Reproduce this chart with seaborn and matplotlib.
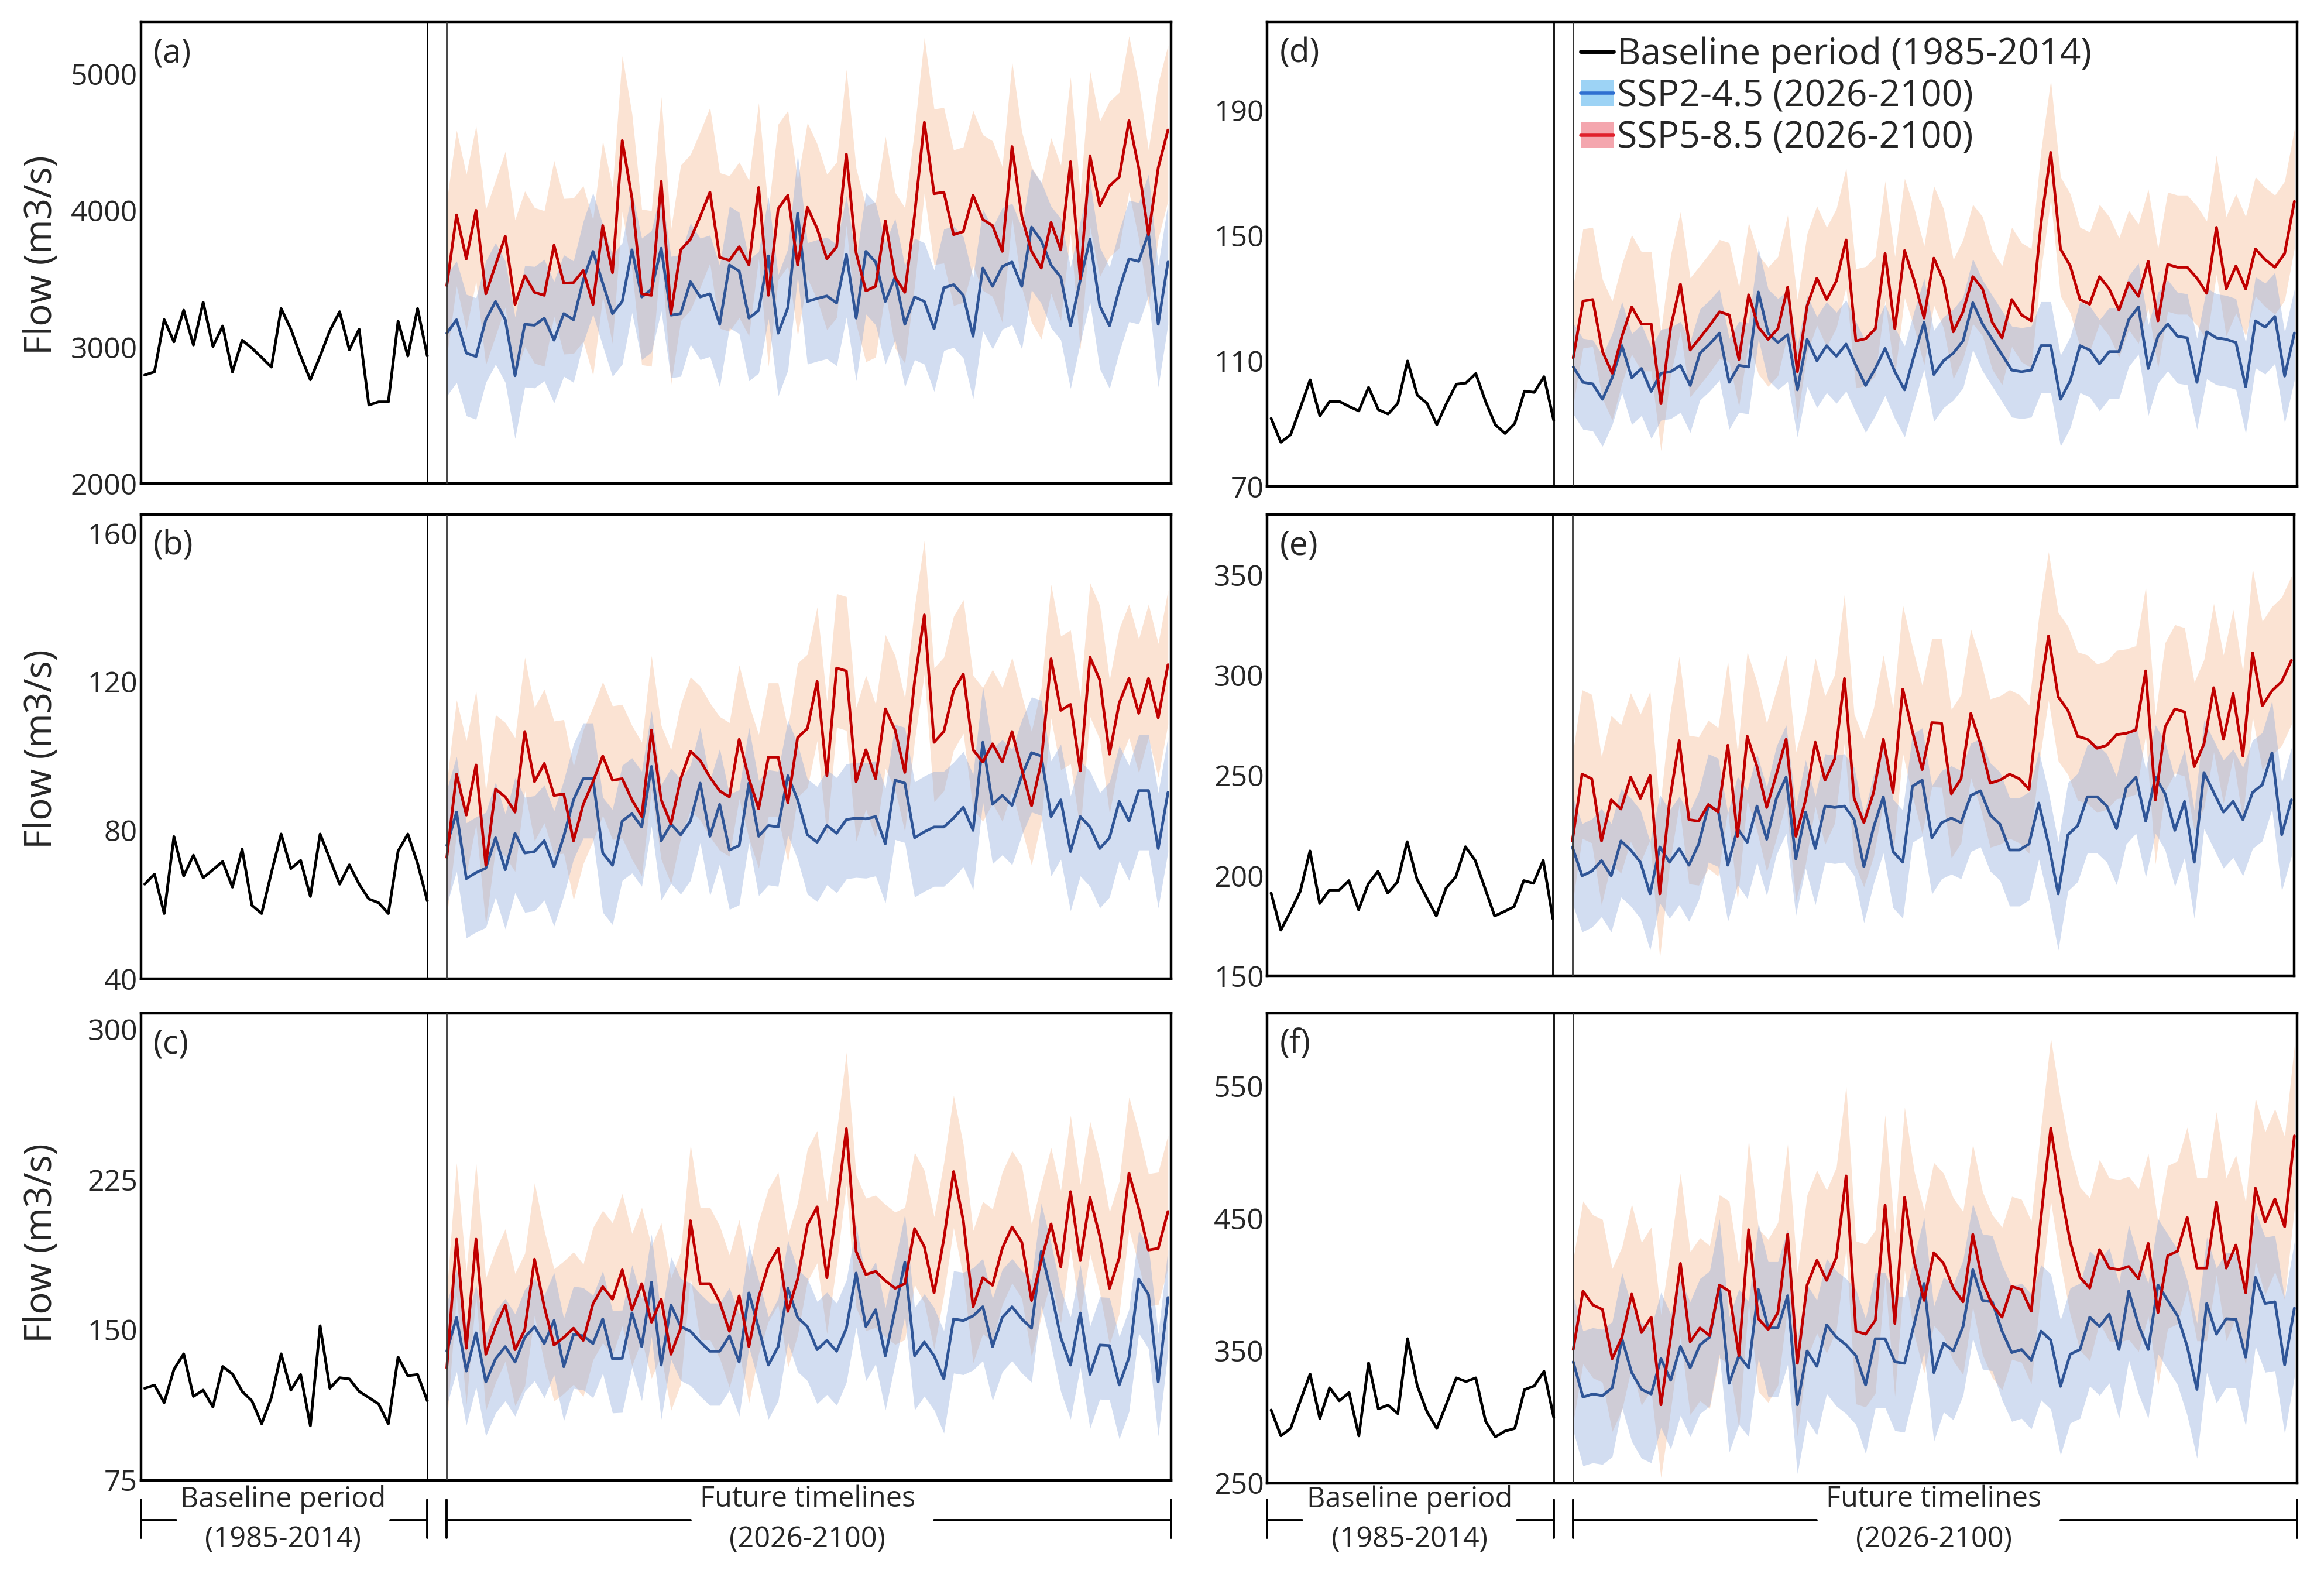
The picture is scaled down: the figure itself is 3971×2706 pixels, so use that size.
import numpy as np
import matplotlib
matplotlib.use("Agg")
import matplotlib.pyplot as plt
import matplotlib.transforms as mtransforms
from matplotlib.lines import Line2D
from matplotlib.patches import Patch
import seaborn as sns

sns.set_style("white")
plt.rcParams["font.family"] = ["Open Sans", "DejaVu Sans"]

# ---------------- data ----------------
base_years = list(range(1985, 2015))
fut_years = list(range(2026, 2101))

a_base = [2795, 2818, 3201, 3038, 3270, 3015, 3328, 3004, 3154, 2818, 3050, 2992, 2923, 2853, 3282,
          3131, 2934, 2760, 2934, 3120, 3259, 2980, 3131, 2575, 2598, 2598, 3189, 2934, 3282, 2934]
a_ssp245 = [3101, 3200, 2956, 2930, 3200, 3334, 3200, 2790, 3167, 3160,
            3212, 3050, 3245, 3200, 3490, 3701, 3468, 3245, 3334, 3712,
            3367, 3423, 3724, 3234, 3245, 3479, 3367, 3390, 3167, 3601,
            3557, 3212, 3268, 3668, 3101, 3290, 3980, 3334, 3356, 3374,
            3323, 3679, 3212, 3701, 3623, 3334, 3512, 3167, 3367, 3334,
            3134, 3434, 3457, 3379, 3079, 3579, 3445, 3590, 3623, 3445,
            3879, 3779, 3601, 3512, 3156, 3490, 3790, 3301, 3156, 3423,
            3646, 3628, 3835, 3167, 3623]
a_ssp585 = [3450, 3968, 3646, 4002, 3390, 3601, 3812, 3312, 3523, 3401,
            3379, 3746, 3468, 3472, 3561, 3312, 3890, 3545, 4513, 4090,
            3390, 3379, 4213, 3245, 3712, 3790, 3957, 4135, 3657, 3635,
            3735, 3601, 4169, 3379, 4013, 4113, 3601, 4024, 3868, 3646,
            3735, 4413, 3690, 3412, 3445, 3924, 3512, 3401, 3968, 4647,
            4124, 4135, 3824, 3846, 4113, 3935, 3890, 3701, 4469, 3957,
            3701, 3579, 3913, 3712, 4358, 3501, 4402, 4035, 4180, 4246,
            4658, 4313, 3824, 4313, 4591]
# band spreads: [ssp245 below, ssp245 above, ssp585 below, ssp585 above]
a_spread = [460, 430, 520, 620]

b_base = [65.5, 68.2, 57.6, 78.3, 67.7, 73.3, 67.2, 69.4, 71.6, 64.7, 74.9, 59.8, 57.6, 68.6, 79.0,
          69.7, 71.9, 62.2, 79.0, 72.3, 65.5, 70.7, 65.5, 61.5, 60.5, 57.6, 74.4, 79.0, 71.1, 61.0]
b_ssp245 = [75.9, 84.9, 67.0, 68.6, 69.8, 78.0, 69.4, 79.2, 73.9, 74.3,
            77.2, 70.2, 78.4, 88.2, 93.9, 93.9, 73.9, 70.6, 82.5, 84.5,
            80.9, 97.2, 77.2, 81.7, 78.8, 82.5, 92.7, 78.4, 87.0, 74.7,
            75.9, 92.7, 78.4, 81.3, 80.9, 94.7, 88.2, 78.8, 76.8, 81.3,
            79.2, 82.9, 83.3, 83.1, 83.7, 76.4, 93.5, 92.7, 78.0, 79.6,
            80.9, 80.9, 83.3, 86.2, 80.0, 103.7, 87.0, 89.4, 86.7, 94.7,
            100.9, 100.0, 83.7, 88.2, 74.3, 83.7, 80.9, 75.1, 78.0, 87.8,
            82.5, 90.7, 90.7, 75.1, 90.2]
b_ssp585 = [72.7, 95.1, 84.1, 97.6, 70.6, 91.1, 89.0, 84.9, 106.6, 93.1,
            98.0, 89.4, 89.8, 77.2, 87.0, 93.1, 100.0, 93.5, 93.9, 88.2,
            83.7, 107.0, 88.2, 81.7, 93.9, 101.3, 98.8, 94.3, 90.6, 89.0,
            104.5, 93.9, 85.8, 99.7, 99.7, 87.4, 105.0, 107.4, 120.1, 94.7,
            123.7, 122.9, 93.1, 101.7, 93.9, 112.7, 107.0, 95.6, 120.1, 138.0,
            103.7, 106.6, 117.6, 122.1, 101.7, 98.4, 103.3, 98.4, 106.6, 96.4,
            86.6, 98.4, 126.2, 112.3, 113.9, 96.0, 126.6, 120.5, 100.5, 114.3,
            120.9, 111.5, 120.9, 110.3, 124.6]
b_spread = [16, 15, 16, 20]

c_base = [120.8, 122.4, 113.7, 130.2, 138.0, 116.8, 119.9, 111.5, 131.7, 128.0, 119.3, 114.6, 103.1,
          116.2, 138.0, 119.9, 127.7, 102.1, 152.0, 120.8, 126.1, 125.5, 119.3, 116.2, 113.0, 103.1,
          136.4, 127.1, 127.7, 114.6]
c_ssp245 = [139.3, 156.1, 129.4, 148.5, 124.0, 135.5, 141.6, 133.9, 146.2, 151.6,
            143.1, 154.6, 131.6, 147.7, 147.0, 143.1, 155.4, 135.5, 135.8, 158.4,
            141.6, 173.7, 132.4, 162.3, 151.6, 149.3, 143.9, 139.3, 139.3, 147.0,
            133.9, 168.4, 150.8, 132.4, 141.6, 170.7, 156.1, 151.6, 140.1, 144.7,
            139.3, 150.8, 178.3, 151.6, 160.0, 137.0, 160.0, 183.7, 137.0, 143.9,
            137.0, 125.5, 155.4, 154.6, 156.9, 161.5, 141.6, 156.1, 161.5, 155.4,
            150.8, 189.1, 169.2, 146.2, 132.4, 158.4, 127.8, 142.4, 142.1, 122.5,
            136.2, 175.3, 167.6, 124.0, 166.1]
c_ssp585 = [130.9, 195.2, 140.8, 195.2, 137.8, 151.6, 162.3, 140.1, 150.0, 185.2,
            161.5, 142.4, 146.2, 150.8, 144.7, 163.0, 171.5, 165.3, 179.9, 160.0,
            173.0, 153.8, 165.3, 137.8, 150.8, 204.4, 173.0, 173.0, 163.8, 149.3,
            166.9, 141.6, 166.1, 182.2, 190.6, 159.2, 175.3, 202.1, 211.3, 176.0,
            210.5, 250.3, 189.1, 177.6, 179.1, 174.5, 170.7, 173.0, 200.5, 191.4,
            168.4, 195.2, 228.9, 204.4, 161.5, 176.0, 172.2, 190.6, 201.3, 193.7,
            164.6, 184.5, 202.8, 181.4, 218.9, 184.5, 215.9, 196.7, 170.7, 186.0,
            228.1, 210.5, 189.8, 190.6, 209.0]
c_spread = [27, 24, 28, 38]

d_base = [91.7, 84.1, 86.5, 95.1, 104.0, 92.5, 97.1, 97.1, 95.5, 94.1, 101.6, 94.5, 93.1, 96.5, 110.0,
          99.1, 96.5, 89.7, 96.5, 102.6, 103.0, 106.0, 97.1, 89.7, 86.9, 90.1, 100.4, 100.0, 105.0, 91.1]
d_ssp245 = [108.1, 103.2, 102.7, 97.8, 104.7, 114.9, 104.7, 107.6, 100.3, 106.1,
            106.6, 108.6, 102.2, 112.5, 115.4, 118.9, 103.2, 108.6, 108.1, 132.0,
            118.9, 115.9, 118.4, 100.8, 116.9, 110.1, 114.9, 111.5, 115.4, 108.6,
            102.2, 107.6, 114.0, 106.6, 100.8, 112.0, 122.3, 105.7, 110.1, 112.5,
            116.4, 128.6, 121.8, 116.9, 112.0, 107.1, 106.6, 107.1, 114.9, 114.9,
            97.8, 103.7, 114.9, 113.5, 109.1, 113.0, 113.0, 123.2, 127.2, 107.6,
            117.9, 121.8, 117.9, 117.4, 103.2, 119.3, 117.4, 116.9, 115.9, 101.8,
            122.8, 120.8, 124.2, 105.2, 118.9]
d_ssp585 = [111.0, 129.1, 129.6, 113.0, 106.1, 117.9, 127.2, 121.8, 121.8, 96.4,
            120.8, 134.5, 113.5, 117.4, 121.3, 125.7, 124.7, 110.5, 131.1, 120.8,
            116.9, 120.3, 133.5, 106.6, 127.6, 136.4, 129.6, 135.5, 148.6, 116.4,
            117.1, 120.3, 144.3, 120.3, 145.2, 135.5, 123.7, 142.8, 135.5, 119.3,
            125.7, 136.9, 133.0, 122.3, 117.4, 129.6, 124.7, 122.8, 154.0, 176.5,
            145.7, 140.3, 129.6, 128.1, 136.9, 133.0, 126.2, 135.0, 130.6, 141.8,
            122.8, 140.8, 139.9, 139.9, 136.4, 131.6, 152.6, 133.0, 140.3, 133.0,
            145.7, 142.3, 139.9, 144.3, 160.9]
d_spread = [15, 14, 15, 23]

e_base = [191.3, 172.8, 182.1, 192.2, 212.3, 186.1, 192.8, 192.8, 197.5, 183.0, 195.9, 202.1, 191.3,
          196.8, 216.9, 198.4, 189.1, 179.9, 193.8, 199.3, 214.4, 207.6, 193.8, 179.9, 182.1, 184.5,
          197.5, 196.2, 207.6, 178.4]
e_ssp245 = [214.3, 199.9, 202.2, 207.5, 199.9, 217.3, 212.8, 206.7, 190.9, 214.3,
            206.7, 213.5, 205.2, 215.8, 234.7, 232.5, 205.2, 223.4, 216.6, 234.7,
            218.1, 238.5, 249.1, 208.3, 231.7, 213.5, 234.7, 234.0, 234.7, 227.9,
            204.5, 224.1, 239.3, 212.0, 206.7, 244.6, 247.6, 218.8, 226.4, 228.7,
            226.4, 240.0, 242.3, 230.2, 225.7, 212.8, 212.8, 215.8, 236.2, 215.8,
            190.9, 220.4, 224.9, 239.3, 239.3, 234.7, 223.4, 243.8, 249.1, 227.2,
            249.1, 240.8, 222.6, 237.0, 206.7, 251.4, 241.5, 231.7, 237.0, 227.9,
            241.5, 245.3, 261.2, 220.4, 237.8]
e_ssp585 = [217.3, 250.6, 248.3, 217.3, 237.8, 233.2, 249.1, 238.5, 249.9, 190.9,
            237.0, 267.3, 227.9, 227.2, 235.5, 231.7, 265.0, 219.6, 269.5, 254.4,
            234.0, 250.6, 268.0, 219.6, 237.8, 266.5, 247.6, 258.2, 298.3, 238.5,
            226.4, 241.5, 268.0, 241.5, 293.0, 271.8, 252.9, 276.3, 276.0, 240.8,
            248.3, 280.9, 265.7, 246.1, 247.6, 250.6, 248.3, 243.0, 286.9, 319.5,
            289.2, 282.4, 269.5, 268.0, 263.5, 265.0, 270.3, 271.0, 272.6, 302.1,
            237.8, 274.1, 283.1, 281.6, 254.4, 265.7, 293.7, 268.0, 290.7, 259.7,
            311.1, 284.7, 292.2, 296.8, 307.4]
e_spread = [28, 26, 32, 42]

f_base = [305.2, 285.7, 291.3, 312.2, 332.3, 298.8, 322.0, 312.2, 318.4, 285.7, 340.7, 306.1, 308.9,
          302.5, 359.1, 323.4, 303.8, 291.3, 310.0, 329.5, 326.7, 329.5, 296.9, 284.9, 289.3, 291.3,
          320.6, 323.4, 334.5, 299.7]
f_ssp245 = [341.6, 315.0, 317.3, 316.1, 321.9, 359.0, 333.5, 320.8, 317.3, 344.0,
            327.7, 353.2, 337.0, 354.4, 360.2, 399.6, 325.4, 346.3, 337.0, 396.2,
            367.2, 367.2, 391.5, 309.2, 349.8, 338.2, 369.5, 360.2, 354.4, 346.3,
            324.2, 359.0, 359.0, 341.6, 340.5, 370.6, 400.8, 333.5, 355.6, 349.8,
            368.3, 411.2, 388.0, 386.9, 364.8, 348.6, 350.9, 342.8, 364.8, 357.9,
            323.1, 347.4, 350.9, 375.3, 368.3, 377.6, 350.9, 395.0, 369.5, 350.9,
            399.6, 388.0, 376.4, 353.2, 320.8, 385.7, 362.5, 374.1, 373.7, 345.1,
            405.4, 385.7, 386.9, 339.3, 382.2]
f_ssp585 = [350.9, 395.0, 384.6, 381.1, 344.0, 360.2, 392.7, 363.7, 375.3, 309.2,
            360.2, 415.9, 356.7, 367.2, 361.4, 399.6, 395.0, 346.3, 441.4, 374.1,
            366.0, 378.8, 437.9, 340.5, 399.6, 418.2, 403.1, 420.5, 482.0, 364.8,
            362.5, 373.0, 460.0, 370.6, 465.8, 417.0, 388.0, 424.0, 415.9, 397.3,
            386.9, 437.9, 402.0, 384.6, 375.3, 398.5, 396.2, 379.9, 450.7, 518.0,
            471.6, 432.1, 405.4, 397.3, 426.3, 412.4, 411.2, 413.6, 404.3, 431.0,
            378.8, 421.7, 425.2, 450.7, 412.4, 412.4, 462.3, 412.4, 429.8, 393.8,
            472.7, 447.2, 464.6, 443.7, 512.2]
f_spread = [52, 50, 55, 68]

panel_labels = ["(a)", "(b)", "(c)", "(d)", "(e)", "(f)"]
yticks_a = [2000, 3000, 4000, 5000]
yticks_b = [40, 80, 120, 160]
yticks_c = [75, 150, 225, 300]
yticks_d = [70, 110, 150, 190]
yticks_e = [150, 200, 250, 300, 350]
yticks_f = [250, 350, 450, 550]
ylims = [(2000, 5380), (40, 165), (75, 308), (70, 218), (150, 380), (250, 605)]

legend_labels = ["Baseline period (1985-2014)", "SSP2-4.5 (2026-2100)", "SSP5-8.5 (2026-2100)"]
ylabel_text = "Flow (m3/s)"

# ---------------- layout ----------------
W, H = 1568.0, 1068.0   # reference layout units
GAP = 2                 # gap (x units) between the two periods

fig = plt.figure(figsize=(39.71, 27.06), dpi=100)


def box(l, r, t, b):
    return [l / W, 1 - b / H, (r - l) / W, (b - t) / H]


boxes = [box(95, 790, 15, 326), box(95, 790, 347, 660), box(95, 790, 683, 998),
         box(855, 1550, 15, 328), box(855, 1548, 347, 658), box(855, 1550, 683, 1000)]

panels = [(a_base, a_ssp245, a_ssp585, a_spread, yticks_a),
          (b_base, b_ssp245, b_ssp585, b_spread, yticks_b),
          (c_base, c_ssp245, c_ssp585, c_spread, yticks_c),
          (d_base, d_ssp245, d_ssp585, d_spread, yticks_d),
          (e_base, e_ssp245, e_ssp585, e_spread, yticks_e),
          (f_base, f_ssp245, f_ssp585, f_spread, yticks_f)]

xb = np.array(base_years) - base_years[0]
xf = np.array(fut_years) - fut_years[0] + xb[-1] + GAP
XMIN, XMAX = -0.4, xf[-1] + 0.3

RED, BLUE = "#C00000", "#2F5597"
LW = 3.4
axes = []
for i, (bs, s245, s585, spr, ytk) in enumerate(panels):
    ax = fig.add_axes(boxes[i])
    axes.append(ax)
    s245 = np.array(s245, float)
    s585 = np.array(s585, float)
    ax.fill_between(xf, s585 - spr[2], s585 + spr[3], color="#F4B183", alpha=0.35, lw=0, zorder=1)
    ax.fill_between(xf, s245 - spr[0], s245 + spr[1], color="#8FAADC", alpha=0.40, lw=0, zorder=2)
    sns.lineplot(x=xb, y=bs, color="black", lw=LW, ax=ax, legend=False, zorder=4)
    sns.lineplot(x=xf, y=s245, color=BLUE, lw=LW, ax=ax, legend=False, zorder=4)
    sns.lineplot(x=xf, y=s585, color=RED, lw=LW, ax=ax, legend=False, zorder=5)
    ax.axvline(xb[-1], color="black", lw=2.0, zorder=6)
    ax.axvline(xb[-1] + GAP, color="#333333", lw=2.0, zorder=6)
    ax.set_xlim(XMIN, XMAX)
    ax.set_ylim(*ylims[i])
    ax.set_xticks([])
    ax.set_yticks(ytk)
    ax.set_yticklabels([str(t) for t in ytk])
    ax.tick_params(axis="y", length=0, pad=4, labelsize=36)
    ax.set_xlabel("")
    ax.set_ylabel("")
    for sp in ax.spines.values():
        sp.set_visible(True)
        sp.set_color("black")
        sp.set_linewidth(3.2)
    ax.text(0.012, 0.968, panel_labels[i], transform=ax.transAxes, fontsize=41,
            ha="left", va="top", zorder=7)

# y labels on the left column
for yc in (172, 505, 838):
    fig.text(28 / W, 1 - yc / H, ylabel_text, rotation=90, ha="center", va="center", fontsize=46)

# legend in panel (d)
handles = [Line2D([], [], color="black", lw=5),
           (Patch(facecolor="#9DD3F5", edgecolor="none"), Line2D([], [], color="#2F6FD0", lw=4)),
           (Patch(facecolor="#F4A6AE", edgecolor="none"), Line2D([], [], color="#E0202C", lw=4))]
axes[3].legend(handles, legend_labels, loc="upper left", bbox_to_anchor=(0.297, 0.985),
               frameon=False, fontsize=45, handlelength=0.9, handletextpad=0.1,
               labelspacing=0.14, borderaxespad=0.1, borderpad=0.1)

# period brackets below the bottom panels
y_line = 1 - 1025 / H
y_t0, y_t1 = 1 - 1011 / H, 1 - 1037 / H
y_txt1, y_txt2 = 1 - 1011 / H, 1 - 1038 / H
for ax in (axes[2], axes[5]):
    tr = mtransforms.blended_transform_factory(ax.transData, fig.transFigure)
    segs = [([XMIN, 3.2], [y_line, y_line]), ([25.2, xb[-1]], [y_line, y_line]),
            ([xb[-1] + GAP, 56.0], [y_line, y_line]), ([81.0, XMAX], [y_line, y_line])]
    for xs_, ys_ in segs:
        fig.add_artist(Line2D(xs_, ys_, transform=tr, color="black", lw=2.8))
    for xt in (XMIN, xb[-1], xb[-1] + GAP, XMAX):
        fig.add_artist(Line2D([xt, xt], [y_t0, y_t1], transform=tr, color="black", lw=2.8))
    fig.text(14.2, y_txt1, "Baseline period", transform=tr, ha="center", va="center", fontsize=35)
    fig.text(14.2, y_txt2, "(1985-2014)", transform=tr, ha="center", va="center", fontsize=35)
    fig.text(68.0, y_txt1, "Future timelines", transform=tr, ha="center", va="center", fontsize=35)
    fig.text(68.0, y_txt2, "(2026-2100)", transform=tr, ha="center", va="center", fontsize=35)

fig.savefig("out.png", dpi=100, facecolor="white")
